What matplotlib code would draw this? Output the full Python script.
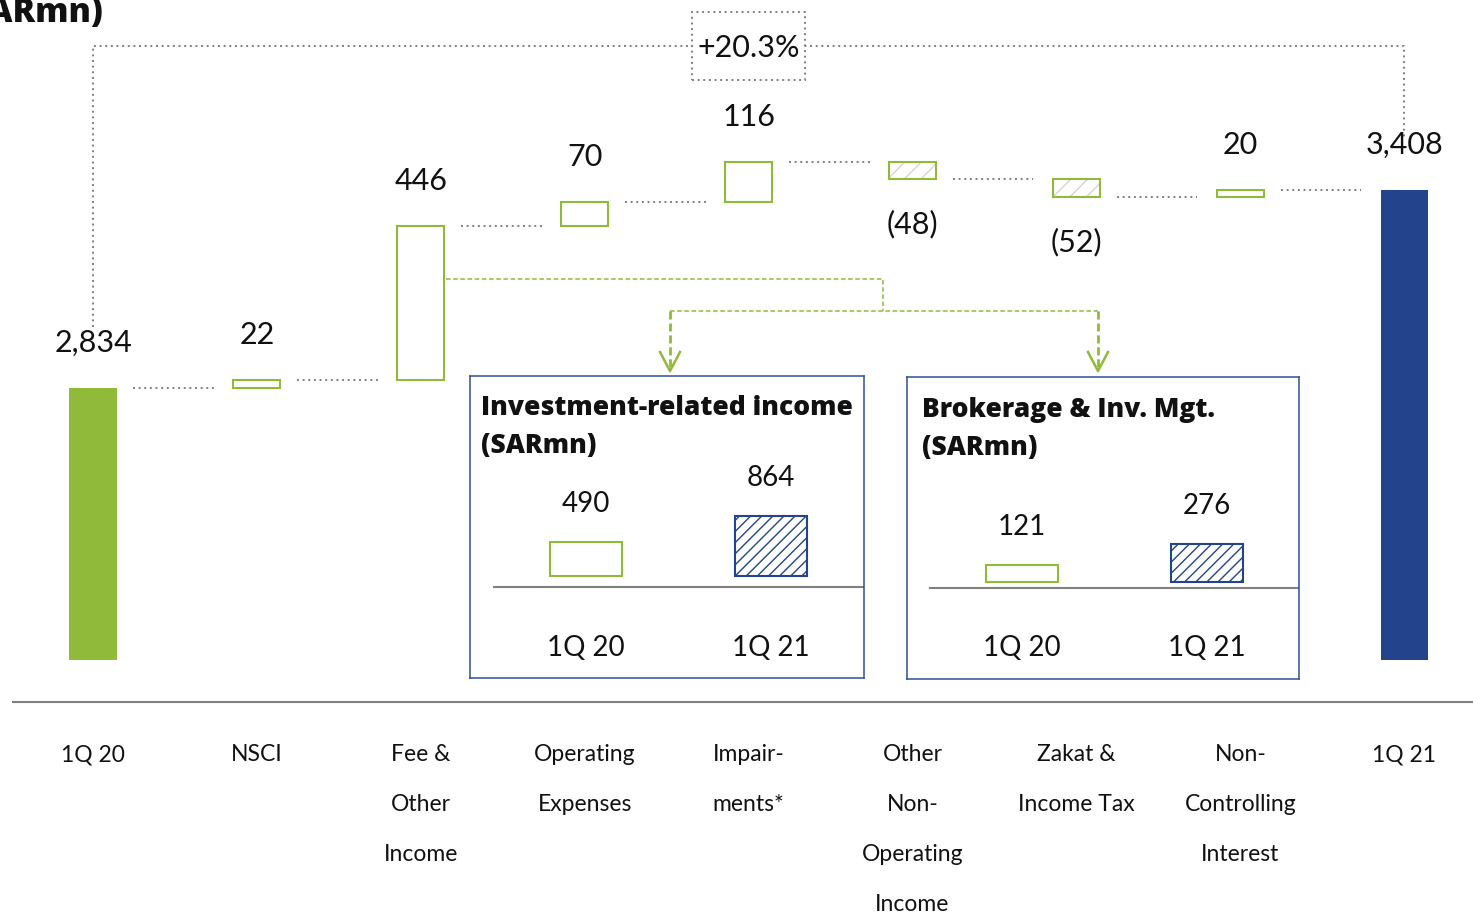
import matplotlib
matplotlib.use("Agg")
import matplotlib.pyplot as plt
from matplotlib.patches import Rectangle
from matplotlib.transforms import blended_transform_factory

plt.rcParams["font.family"] = ["Lato", "DejaVu Sans"]
plt.rcParams["hatch.linewidth"] = 1.0

# ---------------------------------------------------------------- data
categories = ["1Q 20", "NSCI", "Fee &\nOther\nIncome", "Operating\nExpenses",
              "Impair-\nments*", "Other\nNon-\nOperating\nIncome",
              "Zakat &\nIncome Tax", "Non-\nControlling\nInterest", "1Q 21"]
steps = [2834, 22, 446, 70, 116, -48, -52, 20, 3408]
value_labels = ["2,834", "22", "446", "70", "116", "(48)", "(52)", "20", "3,408"]

inv_periods = ["1Q 20", "1Q 21"]
inv_income = [490, 864]
brokerage = [121, 276]
inv_labels = ["490", "864"]
brokerage_labels = ["121", "276"]

# ---------------------------------------------------------------- style
W, H = 1473, 913
GREEN = "#8fba3a"
BLUE = "#23448c"
GREY = "#808080"
HATCH_GREY = "#d9d3cd"
BOX_BLUE = "#2c4f9c"
INK = "#111111"
DOT = (0, (1, 1.9))
BOLD_FONT = ["Open Sans", "DejaVu Sans"]

fig = plt.figure(figsize=(W / 100, H / 100), dpi=100)
ax = fig.add_axes([0, 0, 1, 1])
ax.set_axis_off()

# pixel layout of the bridge
X0, DX = 93.0, 163.9
FLOOR, FLOOR_PX, PX_PER_UNIT = 2045.0, 660.0, 0.3449


def xd(px):
    return (px - X0) / DX


def yd(py):
    return FLOOR + (FLOOR_PX - py) / PX_PER_UNIT


ax.set_xlim(xd(0), xd(W))
ax.set_ylim(yd(H), yd(0))

BW = 0.287
n = len(steps)

# ---------------------------------------------------------------- bridge bars
levels = []
level = 0.0
for i, v in enumerate(steps):
    if i in (0, n - 1):
        bottom, top = FLOOR, v
        level = v
        ax.bar(i, top - bottom, bottom=bottom, width=BW,
               color=GREEN if i == 0 else BLUE, linewidth=0, zorder=3)
    else:
        new = level + v
        bottom, top = min(level, new), max(level, new)
        level = new
        if v < 0:
            ax.bar(i, top - bottom, bottom=bottom, width=BW, color="white",
                   edgecolor=HATCH_GREY, hatch="//", linewidth=0, zorder=3)
        ax.bar(i, top - bottom, bottom=bottom, width=BW, fill=False,
               edgecolor=GREEN, linewidth=1.5, zorder=4)
    levels.append(level)

    if v >= 0 or i in (0, n - 1):
        ax.annotate(value_labels[i], (i, top), xytext=(0, 26),
                    textcoords="offset points", ha="center", va="baseline",
                    fontsize=22, color=INK)
    else:
        ax.annotate(value_labels[i], (i, bottom), xytext=(0, -22),
                    textcoords="offset points", ha="center", va="top",
                    fontsize=22, color=INK)

# dotted connectors between consecutive bars
for i in range(n - 1):
    ax.plot([i + 0.246, i + 1 - 0.262], [levels[i], levels[i]],
            color=GREY, linestyle=DOT, linewidth=1.4, zorder=2)

# category labels, one line at a time
for i, lab in enumerate(categories):
    for k, line in enumerate(lab.split("\n")):
        ax.text(i, yd(761 + 50 * k), line, ha="center", va="baseline",
                fontsize=16.5, color=INK)

# axis line
ax.plot([xd(12), xd(W)], [yd(702), yd(702)], color=GREY, linewidth=1.5,
        solid_capstyle="butt", zorder=2)

# growth bracket over the whole bridge
growth = steps[-1] / steps[0] - 1
ax.plot([0, 0, n - 1, n - 1], [yd(327), yd(46), yd(46), yd(138)],
        color=GREY, linestyle=DOT, linewidth=1.4, zorder=2)
ax.add_patch(Rectangle((xd(692), yd(80)), xd(805) - xd(692), yd(12) - yd(80),
                       facecolor="white", edgecolor=GREY, linestyle=DOT,
                       linewidth=1.4, zorder=5))
ax.text((n - 1) / 2, yd(48), f"+{growth * 100:.1f}%", ha="center",
        va="center", fontsize=22, color=INK, zorder=6)

# green call-outs from Fee & Other Income to the two detail panels
thin = dict(color=GREEN, linewidth=1.1, linestyle=(0, (3, 1.7)), zorder=2)
ax.plot([2 + BW / 2 + 0.01, xd(883), xd(883)], [yd(279), yd(279), yd(311)], **thin)
ax.plot([xd(670), xd(1098)], [yd(311), yd(311)], **thin)
for xc in (670, 1098):
    ax.plot([xd(xc), xd(xc)], [yd(311), yd(368)], color=GREEN, linewidth=2,
            linestyle=(0, (2.9, 1.4)), zorder=2)
    ax.plot([xd(xc - 10), xd(xc), xd(xc + 10)], [yd(352), yd(371), yd(352)],
            color=GREEN, linewidth=1.8, zorder=2)

# title in the top-left corner, running off the page edge
fig.text(104 / W, 1 - 22 / H, "(SARmn)", ha="right", va="baseline",
         fontsize=24, fontweight=800, family=BOLD_FONT, color=INK)


# ---------------------------------------------------------------- detail panels
def panel(box, centers, zero_px, px_per_unit, values, labels, title,
          title_px, base_x0, base_px):
    l, t, r, b = box
    iax = fig.add_axes([l / W, 1 - b / H, (r - l) / W, (b - t) / H])
    iax.set_facecolor("white")
    sp = centers[1] - centers[0]
    iax.set_xlim(-(centers[0] - l) / sp, 1 + (r - centers[1]) / sp)
    iax.set_ylim(-(b - zero_px) / px_per_unit, (zero_px - t) / px_per_unit)
    iax.set_xticks([])
    iax.set_yticks([])
    for s in iax.spines.values():
        s.set_color(BOX_BLUE)
        s.set_linewidth(1.1)

    bw = 72 / sp
    iax.bar(0, values[0], width=bw, fill=False, edgecolor=GREEN, linewidth=1.5)
    iax.bar(1, values[1], width=bw, color="white", edgecolor=BLUE,
            hatch="///", linewidth=1.5)
    for i, (v, lab) in enumerate(zip(values, labels)):
        iax.annotate(lab, (i, v), xytext=(0, 21.5), textcoords="offset points",
                     ha="center", va="baseline", fontsize=20, color=INK)
        iax.text(i, -(656 - zero_px) / px_per_unit, inv_periods[i],
                 ha="center", va="baseline", fontsize=20, color=INK)

    tr = blended_transform_factory(iax.transAxes, iax.transData)
    iax.plot([(base_x0 - l) / (r - l), 1], [-(base_px - zero_px) / px_per_unit] * 2,
             transform=tr, color=GREY, linewidth=1.5)

    tx, ty = title_px
    for k, line in enumerate(title.split("\n")):
        iax.text((tx - l) / (r - l), 1 - (ty + 38 * k - t) / (b - t), line,
                 transform=iax.transAxes, ha="left", va="baseline",
                 fontsize=19, fontweight=800, family=BOLD_FONT, color=INK)


panel((470, 376, 864, 678), (586, 771), 576, 60 / 864, inv_income, inv_labels,
      "Investment-related income\n(SARmn)", (481, 415), 494, 587)
panel((907, 377, 1299, 679), (1022, 1207), 582, 38 / 276, brokerage,
      brokerage_labels, "Brokerage & Inv. Mgt.\n(SARmn)", (922, 417), 930, 588)

fig.savefig("out.png", dpi=100)
